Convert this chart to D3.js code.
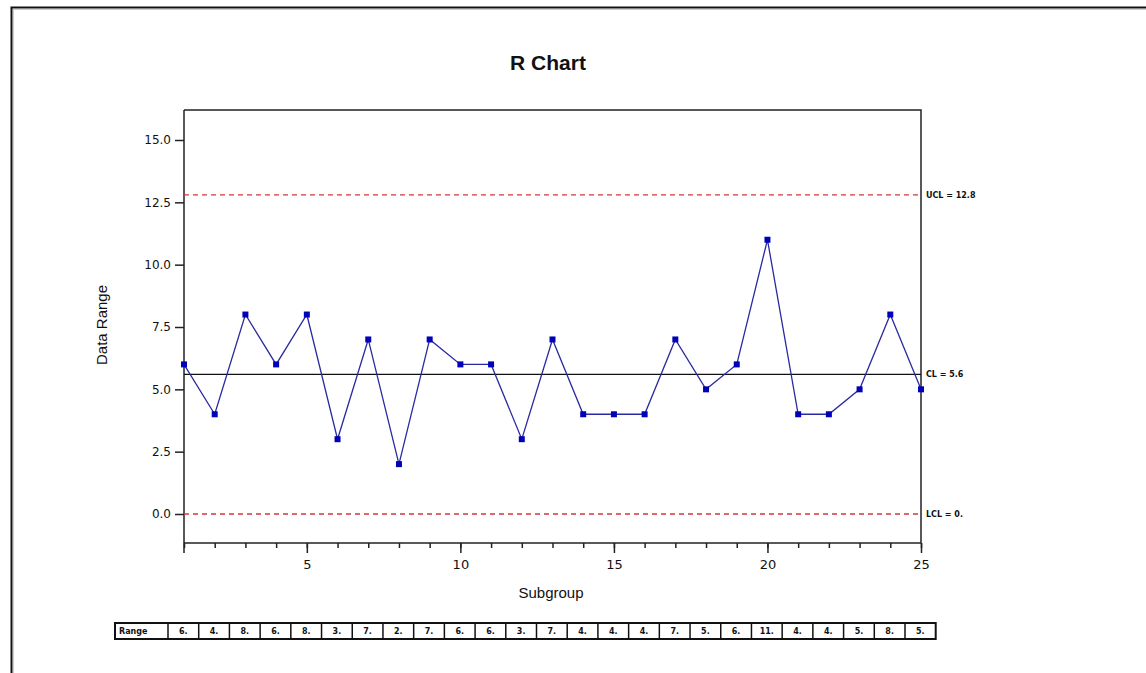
<!DOCTYPE html>
<html>
<head>
<meta charset="utf-8">
<script src="https://cdn.jsdelivr.net/npm/d3@7"></script>
<style>
  html, body { margin: 0; padding: 0; background: #fff; }
  svg { display: block; font-family: "Liberation Sans", Arial, sans-serif; }
</style>
</head>
<body>
<svg id="chart" width="1146" height="673"></svg>
<script>
// Subgroup ranges for the R chart
const subgroups = d3.range(1, 26);
const ranges = [6, 4, 8, 6, 8, 3, 7, 2, 7, 6, 6, 3, 7, 4, 4, 4, 7, 5, 6, 11, 4, 4, 5, 8, 5];
const yTicks = [0, 2.5, 5, 7.5, 10, 12.5, 15];
const xTicksMajor = [5, 10, 15, 20, 25];
const limits = [
  { name: "UCL", value: 12.8, label: "UCL = 12.8", dashed: true },
  { name: "CL", value: 5.6, label: "CL = 5.6", dashed: false },
  { name: "LCL", value: 0, label: "LCL = 0.", dashed: true }
];

const svg = d3.select("#chart");

// Outer frame
svg.append("rect").attr("x", 11.5).attr("y", 7.5).attr("width", 1200).attr("height", 700)
  .attr("fill", "none").attr("stroke", "#111").attr("stroke-width", 2);
svg.append("rect").attr("x", 13.5).attr("y", 9.5).attr("width", 1200).attr("height", 700)
  .attr("fill", "none").attr("stroke", "#ccc").attr("stroke-width", 1);

const x = d3.scaleLinear().domain([1, 25]).range([184, 921]);
const y = d3.scaleLinear().domain([0, 15]).range([514, 140]);
const plotTop = 110, plotBottom = 543;

// Title
svg.append("text").attr("x", 548).attr("y", 70).attr("text-anchor", "middle")
  .attr("font-size", 21).attr("font-weight", "bold").attr("fill", "#111").text("R Chart");

// Plot box (top and right edges)
svg.append("path")
  .attr("d", `M${x(1)},${plotTop}H${x(25)}V${plotBottom}`)
  .attr("fill", "none").attr("stroke", "#222").attr("stroke-width", 1.5);

// Y axis
const yAxis = d3.axisLeft(y).tickValues(yTicks).tickFormat(d3.format(".1f")).tickSize(9).tickPadding(4);
const gy = svg.append("g").attr("transform", `translate(${x(1)},0)`).call(yAxis);
gy.select(".domain").remove();
gy.append("line").attr("x1", 0).attr("x2", 0).attr("y1", plotTop).attr("y2", plotBottom + 10)
  .attr("stroke", "#222").attr("stroke-width", 1.5);
gy.selectAll(".tick line").attr("stroke", "#222").attr("stroke-width", 1.5);
gy.selectAll(".tick text").attr("font-size", 12).attr("fill", "#111").attr("font-family", "DejaVu Sans, sans-serif");

// X axis: minor ticks at each subgroup, longer ticks at multiples of five
const gx = svg.append("g").attr("transform", `translate(0,${plotBottom})`);
gx.append("line").attr("x1", x(1)).attr("x2", x(25)).attr("stroke", "#222").attr("stroke-width", 1.5);
const xMinor = d3.axisBottom(x).tickValues(subgroups).tickSize(5).tickFormat("");
const gxm = gx.append("g").call(xMinor);
gxm.select(".domain").remove();
gxm.selectAll(".tick line").attr("stroke", "#222").attr("stroke-width", 1.5);
const xMajor = d3.axisBottom(x).tickValues(xTicksMajor).tickSize(10).tickPadding(7).tickFormat(d3.format("d"));
const gxM = gx.append("g").call(xMajor);
gxM.select(".domain").remove();
gxM.selectAll(".tick line").attr("stroke", "#222").attr("stroke-width", 1.5);
gxM.selectAll(".tick text").attr("font-size", 13).attr("fill", "#111").attr("font-family", "DejaVu Sans, sans-serif");

// Axis titles
svg.append("text").attr("x", 551).attr("y", 598).attr("text-anchor", "middle")
  .attr("font-size", 15).attr("fill", "#111").text("Subgroup");
svg.append("text").attr("transform", "translate(107,325) rotate(-90)").attr("text-anchor", "middle")
  .attr("font-size", 15).attr("fill", "#111").text("Data Range");

// Control limits
const lg = svg.append("g");
limits.forEach(l => {
  lg.append("line").attr("x1", x(1)).attr("x2", x(25)).attr("y1", y(l.value)).attr("y2", y(l.value))
    .attr("stroke", l.dashed ? "#d03a3a" : "#111").attr("stroke-width", 1.3)
    .attr("stroke-dasharray", l.dashed ? "5,4" : null);
  lg.append("text").attr("x", x(25) + 5).attr("y", y(l.value) + 3)
    .attr("font-size", 8).attr("font-weight", "bold").attr("fill", "#111")
    .attr("font-family", "DejaVu Sans, sans-serif").text(l.label);
});

// Data line and markers
const pts = subgroups.map((s, i) => [s, ranges[i]]);
svg.append("path").datum(pts)
  .attr("d", d3.line().x(d => x(d[0])).y(d => y(d[1])))
  .attr("fill", "none").attr("stroke", "#2a2aa0").attr("stroke-width", 1.3);
svg.append("g").selectAll("rect").data(pts).join("rect")
  .attr("x", d => x(d[0]) - 3).attr("y", d => y(d[1]) - 3)
  .attr("width", 6).attr("height", 6).attr("fill", "#0000b8");

// Range table under the axis
const tTop = 623, tH = 16, firstW = 53;
const cellW = x(2) - x(1);
const tLeft = 115;
const tg = svg.append("g");
tg.append("rect").attr("x", tLeft).attr("y", tTop).attr("width", firstW + cellW * ranges.length).attr("height", tH)
  .attr("fill", "#fff").attr("stroke", "#111").attr("stroke-width", 2);
tg.append("text").attr("x", tLeft + 4).attr("y", tTop + 11).attr("font-size", 8).attr("font-weight", "bold")
  .attr("font-family", "DejaVu Sans, sans-serif").attr("fill", "#111").text("Range");
ranges.forEach((v, i) => {
  const cx = tLeft + firstW + i * cellW;
  tg.append("line").attr("x1", cx).attr("x2", cx).attr("y1", tTop).attr("y2", tTop + tH)
    .attr("stroke", "#111").attr("stroke-width", 1.5);
  tg.append("text").attr("x", cx + cellW / 2).attr("y", tTop + 11).attr("text-anchor", "middle")
    .attr("font-size", 8).attr("font-weight", "bold").attr("font-family", "DejaVu Sans, sans-serif")
    .attr("fill", "#111").text(v + ".");
});
</script>
</body>
</html>
